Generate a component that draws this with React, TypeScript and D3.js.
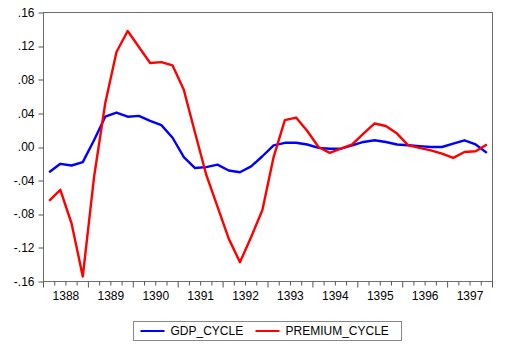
import React, { useEffect, useRef } from 'react';
import * as d3 from 'd3';

// quarterly cycles, 1388Q1 .. 1397Q4
const years = ['1388', '1389', '1390', '1391', '1392', '1393', '1394', '1395', '1396', '1397'];

const gdpCycle = [
  -0.030, -0.020, -0.022, -0.018, 0.008, 0.036, 0.041, 0.036, 0.037, 0.031,
  0.026, 0.011, -0.012, -0.025, -0.024, -0.021, -0.028, -0.030, -0.023, -0.011,
  0.002, 0.005, 0.005, 0.003, -0.001, -0.002, -0.002, 0.002, 0.006, 0.008,
  0.006, 0.003, 0.002, 0.001, 0.000, 0.000, 0.004, 0.008, 0.003, -0.007,
];

const premiumCycle = [
  -0.064, -0.051, -0.091, -0.154, -0.036, 0.052, 0.113, 0.138, 0.119, 0.100,
  0.101, 0.097, 0.068, 0.017, -0.033, -0.071, -0.109, -0.137, -0.107, -0.075,
  -0.012, 0.032, 0.035, 0.019, 0.000, -0.007, -0.002, 0.003, 0.016, 0.028,
  0.025, 0.016, 0.002, -0.001, -0.004, -0.008, -0.013, -0.006, -0.005, 0.003,
];

const yTicks = [0.16, 0.12, 0.08, 0.04, 0, -0.04, -0.08, -0.12, -0.16];

const series = [
  { name: 'GDP_CYCLE', values: gdpCycle, color: '#0000ff' },
  { name: 'PREMIUM_CYCLE', values: premiumCycle, color: '#ff0000' },
];

const W = 527;
const H = 350;

const fmt = (v: number) => {
  const s = v.toFixed(2);
  return s.replace(/^(-?)0\./, '$1.');
};

const CycleChart: React.FC = () => {
  const svgRef = useRef<SVGSVGElement | null>(null);

  useEffect(() => {
    if (!svgRef.current) return;
    const margin = { top: 12.5, right: 34.5, bottom: 68.5, left: 43.5 };
    const width = W - margin.left - margin.right;
    const height = H - margin.top - margin.bottom;
    const n = gdpCycle.length;

    const svg = d3.select(svgRef.current);
    svg.selectAll('*').remove();

    const x = d3.scaleLinear().domain([-0.5, n - 0.5]).range([0, width]);
    const y = d3.scaleLinear().domain([-0.16, 0.16]).range([height, 0]);

    const g = svg.append('g').attr('transform', `translate(${margin.left},${margin.top})`);

    // frame
    g.append('rect')
      .attr('width', width)
      .attr('height', height)
      .attr('fill', 'none')
      .attr('stroke', '#6e6e6e')
      .attr('stroke-width', 1);

    // Y axis ticks + labels
    const yAxis = g.append('g').attr('font-family', 'Arial, "Liberation Sans", sans-serif').attr('font-size', 12);
    yTicks.forEach((t) => {
      yAxis.append('line')
        .attr('x1', -5).attr('x2', 0)
        .attr('y1', Math.round(y(t)) + 0.5).attr('y2', Math.round(y(t)) + 0.5)
        .attr('stroke', '#555');
      yAxis.append('text')
        .attr('x', -9)
        .attr('y', y(t))
        .attr('dy', '0.35em')
        .attr('text-anchor', 'end')
        .attr('fill', '#000')
        .text(fmt(t));
    });

    // X axis: a tick at every quarter boundary, longer ones at year starts
    const xAxis = g.append('g').attr('transform', `translate(0,${height})`);
    d3.range(0, n + 1).forEach((i) => {
      const px = x(i - 0.5);
      xAxis.append('line')
        .attr('x1', px).attr('x2', px)
        .attr('y1', 0).attr('y2', i % 4 === 0 ? 6 : 4)
        .attr('stroke', '#555');
    });
    years.forEach((yr, k) => {
      xAxis.append('text')
        .attr('x', x(k * 4 + 1.5))
        .attr('y', 18)
        .attr('text-anchor', 'middle')
        .attr('font-family', 'Arial, "Liberation Sans", sans-serif')
        .attr('font-size', 12)
        .attr('fill', '#000')
        .text(yr);
    });

    const line = d3
      .line<number>()
      .x((_, i) => x(i))
      .y((d) => y(d));

    series.forEach((s) => {
      g.append('path')
        .datum(s.values)
        .attr('fill', 'none')
        .attr('stroke', s.color)
        .attr('stroke-width', 2.4)
        .attr('stroke-linejoin', 'round')
        .attr('d', line);
    });

    // legend
    const leg = svg.append('g').attr('transform', 'translate(133.5,321.5)');
    leg.append('rect')
      .attr('width', 268)
      .attr('height', 19)
      .attr('fill', '#fff')
      .attr('stroke', '#888');
    const items = [
      { s: series[0], x0: 7 },
      { s: series[1], x0: 122 },
    ];
    items.forEach(({ s, x0 }) => {
      leg.append('line')
        .attr('x1', x0).attr('x2', x0 + 24)
        .attr('y1', 9.5).attr('y2', 9.5)
        .attr('stroke', s.color)
        .attr('stroke-width', 2);
      leg.append('text')
        .attr('x', x0 + 30)
        .attr('y', 9.5)
        .attr('dy', '0.35em')
        .attr('font-family', 'Arial, "Liberation Sans", sans-serif')
        .attr('font-size', 12)
        .attr('fill', '#000')
        .text(s.name);
    });
  }, []);

  return (
    <svg
      ref={svgRef}
      width={W}
      height={H}
      style={{ position: 'absolute', left: 0, top: 0, background: '#fff' }}
    />
  );
};

export default function App() {
  return <CycleChart />;
}
